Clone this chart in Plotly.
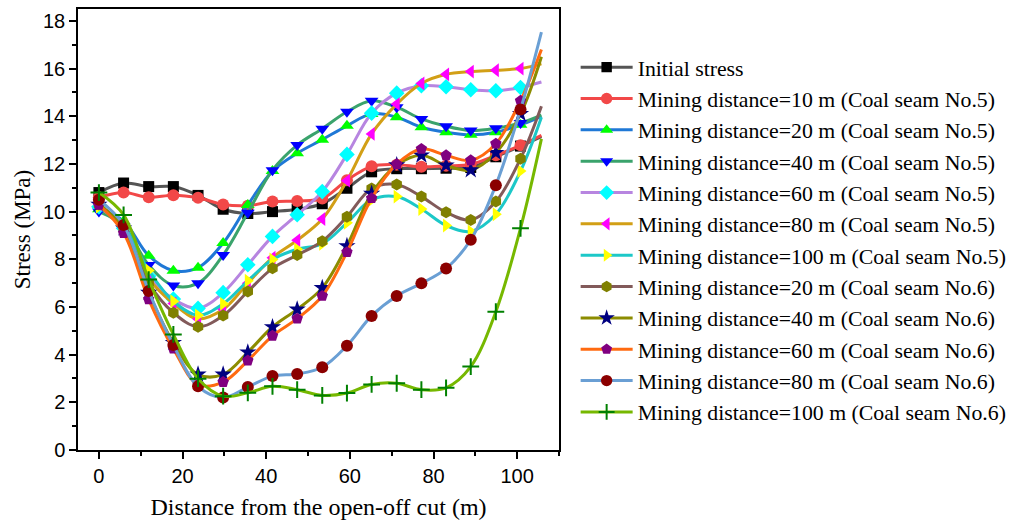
import plotly.graph_objects as go

X = [0, 5.9, 11.9, 17.8, 23.7, 29.7, 35.6, 41.5, 47.4, 53.4, 59.3, 65.2, 71.2, 77.1, 83.0, 88.9, 94.9, 100.8, 105.8]

initial = [10.8, 11.2, 11.05, 11.05, 10.68, 10.1, 9.92, 10.0, 10.1, 10.33, 10.98, 11.67, 11.8, 11.8, 11.82, 11.85, 12.3, 12.75, 13.15]
n5_10 = [10.6, 10.8, 10.6, 10.69, 10.58, 10.3, 10.25, 10.42, 10.45, 10.55, 11.32, 11.9, 11.97, 11.88, 11.92, 11.98, 12.36, 12.78, 13.2]
n5_20 = [10.1, 9.6, 8.15, 7.52, 7.65, 8.68, 10.28, 11.7, 12.45, 13.02, 13.6, 14.1, 13.96, 13.54, 13.33, 13.22, 13.33, 13.64, 14.0]
n5_40 = [10.0, 9.4, 7.76, 6.9, 7.0, 8.18, 9.95, 11.74, 12.79, 13.48, 14.19, 14.65, 14.38, 13.89, 13.58, 13.4, 13.5, 13.72, 14.05]
n5_60 = [10.2, 9.3, 7.3, 6.33, 5.94, 6.6, 7.77, 8.96, 9.87, 10.84, 12.4, 14.13, 14.97, 15.28, 15.24, 15.11, 15.07, 15.21, 15.44]
n5_80 = [10.3, 9.3, 7.2, 6.15, 5.5, 5.9, 7.0, 8.07, 8.8, 9.69, 11.3, 13.26, 14.51, 15.375, 15.76, 15.875, 15.93, 16.0, 16.2]
n5_100 = [10.2, 9.4, 7.53, 6.24, 5.65, 6.13, 7.1, 7.99, 8.42, 8.65, 9.53, 10.5, 10.63, 10.11, 9.42, 9.17, 9.89, 11.7, 13.96]
n6_20 = [10.3, 9.3, 7.0, 5.76, 5.17, 5.64, 6.65, 7.62, 8.18, 8.76, 9.79, 10.97, 11.14, 10.63, 9.97, 9.65, 10.42, 12.22, 14.42]
n6_40 = [10.3, 9.3, 6.6, 4.5, 3.17, 3.17, 4.1, 5.16, 5.9, 6.8, 8.56, 10.76, 11.95, 12.36, 11.94, 11.74, 12.47, 14.1, 16.5]
n6_60 = [10.28, 9.1, 6.32, 4.25, 2.75, 2.85, 3.75, 4.79, 5.51, 6.46, 8.3, 10.56, 11.99, 12.63, 12.36, 12.15, 12.85, 14.65, 16.8]
n6_80 = [10.5, 9.44, 6.67, 4.4, 2.67, 2.2, 2.64, 3.1, 3.19, 3.47, 4.375, 5.625, 6.46, 6.99, 7.61, 8.82, 11.11, 14.28, 17.53]
n6_100 = [10.8, 9.86, 7.15, 4.85, 2.99, 2.26, 2.4, 2.67, 2.53, 2.29, 2.39, 2.75, 2.8, 2.53, 2.61, 3.5, 5.8, 9.3, 13.05]

names = [
    "Initial stress",
    "Mining distance=10 m (Coal seam No.5)",
    "Mining distance=20 m (Coal seam No.5)",
    "Mining distance=40 m (Coal seam No.5)",
    "Mining distance=60 m (Coal seam No.5)",
    "Mining distance=80 m (Coal seam No.5)",
    "Mining distance=100 m (Coal seam No.5)",
    "Mining distance=20 m (Coal seam No.6)",
    "Mining distance=40 m (Coal seam No.6)",
    "Mining distance=60 m (Coal seam No.6)",
    "Mining distance=80 m (Coal seam No.6)",
    "Mining distance=100 m (Coal seam No.6)",
]
series = [initial, n5_10, n5_20, n5_40, n5_60, n5_80, n5_100, n6_20, n6_40, n6_60, n6_80, n6_100]
line_colors = ["#555555", "#f24848", "#1f78d6", "#3aa36c", "#b785e0", "#d29f16",
               "#1cc8c8", "#825a5a", "#8c8c00", "#ff6a10", "#6a9fd4", "#76b800"]
marker_colors = ["#000000", "#f24848", "#00ff00", "#0000ff", "#00ffff", "#ff00ff",
                 "#ffff00", "#808000", "#000080", "#800080", "#8b0000", "#008000"]
symbols = ["square", "circle", "triangle-up", "triangle-down", "diamond", "triangle-left",
           "triangle-right", "hexagon", "star", "pentagon", "circle", "cross-thin"]
sizes = [11, 12, 12, 12, 12, 12, 12, 12, 13, 12, 12, 12]

fig = go.Figure()
for name, ys, lc, mc, sym, sz in zip(names, series, line_colors, marker_colors, symbols, sizes):
    msize = [sz] * (len(X) - 1) + [0]
    mline = dict(width=0)
    if sym == "cross-thin":
        mline = dict(width=2, color=mc)
    fig.add_trace(go.Scatter(
        x=X, y=ys, name=name, mode="lines+markers",
        line=dict(color=lc, width=3, shape="spline", smoothing=1),
        marker=dict(symbol=sym, color=mc, size=msize, line=mline, opacity=1),
    ))

serif = "Liberation Serif, Times New Roman, serif"
narrow = "Liberation Sans Narrow, Arial Narrow, Liberation Sans, Arial, sans-serif"

fig.update_layout(
    width=1019, height=525,
    margin=dict(l=78, r=450, t=7, b=75),
    paper_bgcolor="white", plot_bgcolor="white",
    showlegend=True,
    legend=dict(
        x=1.0346, y=0.915, xanchor="left", yanchor="top",
        font=dict(family=serif, size=21.8, color="black"),
        itemwidth=52, bgcolor="rgba(0,0,0,0)", tracegroupgap=0,
    ),
)
fig.update_xaxes(
    range=[-5, 110], showgrid=False, zeroline=False,
    showline=True, linecolor="black", linewidth=1.5, mirror=True,
    ticks="outside", ticklen=7, tickwidth=1.5, tickcolor="black",
    tick0=0, dtick=20,
    minor=dict(ticks="outside", ticklen=4, tickwidth=1.5, tickcolor="black", tick0=0, dtick=10),
    tickfont=dict(family=narrow, size=20, color="black"),
    title=dict(text="Distance from the open-off cut (m)", font=dict(family=serif, size=24, color="black"), standoff=12),
)
fig.update_yaxes(
    range=[0, 18.5], showgrid=False, zeroline=False,
    showline=True, linecolor="black", linewidth=1.5, mirror=True,
    ticks="outside", ticklen=7, tickwidth=1.5, tickcolor="black",
    tick0=0, dtick=2,
    minor=dict(ticks="outside", ticklen=4, tickwidth=1.5, tickcolor="black", tick0=0, dtick=1),
    tickfont=dict(family=narrow, size=20, color="black"),
    title=dict(text="Stress (MPa)", font=dict(family=serif, size=23, color="black"), standoff=6),
)

fig.write_html("out.html")
